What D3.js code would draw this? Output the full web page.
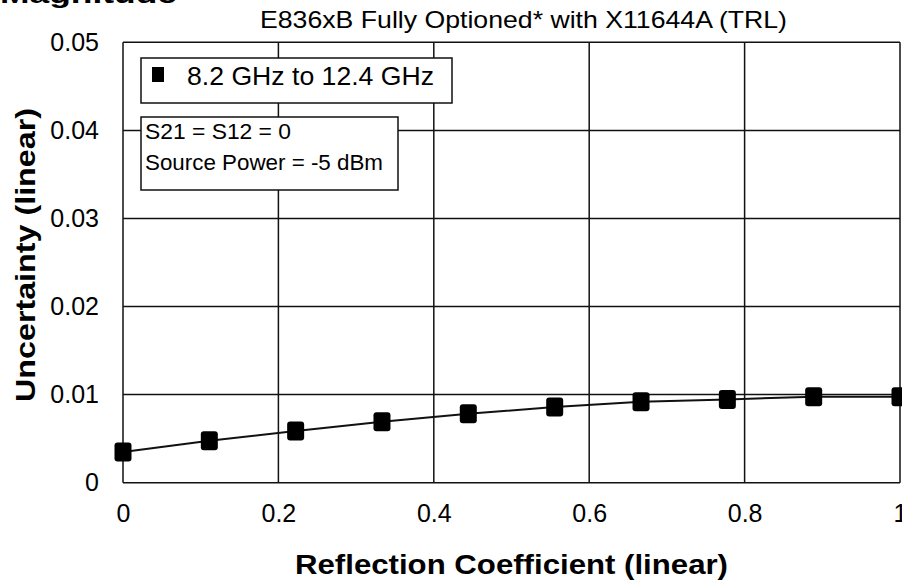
<!DOCTYPE html>
<html>
<head>
<meta charset="utf-8">
<script src="https://cdn.jsdelivr.net/npm/d3@7"></script>
<style>
  html, body { margin: 0; padding: 0; background: #fff; }
  svg { display: block; }
  text { font-family: "Liberation Sans", Arial, sans-serif; fill: #000; }
</style>
</head>
<body>
<script>
// ---- data ----
const xValues = [0, 0.1111, 0.2222, 0.3333, 0.4444, 0.5556, 0.6667, 0.7778, 0.8889, 1.0];
const yValues = [0.00348, 0.00476, 0.00587, 0.00692, 0.00783, 0.00859, 0.00919, 0.00946, 0.00976, 0.00976];
const xTicks = [0, 0.2, 0.4, 0.6, 0.8, 1];
const xTickLabels = ["0", "0.2", "0.4", "0.6", "0.8", "1"];
const yTicks = [0, 0.01, 0.02, 0.03, 0.04, 0.05];
const yTickLabels = ["0", "0.01", "0.02", "0.03", "0.04", "0.05"];
const seriesName = "8.2 GHz to 12.4 GHz";
const noteLines = ["S21 = S12 = 0", "Source Power = -5 dBm"];
const chartTitle = "E836xB Fully Optioned* with X11644A (TRL)";
const cornerLabel = "Magnitude";
const xTitle = "Reflection Coefficient (linear)";
const yTitle = "Uncertainty (linear)";

const W = 902, H = 585;
const svg = d3.select("body").append("svg").attr("width", W).attr("height", H);

const x = d3.scaleLinear().domain([0, 1]).range([123, 900]);
const y = d3.scaleLinear().domain([0, 0.05]).range([482.7, 42.3]);
const ink = "#111";

// corner label (cut at top)
svg.append("text").attr("x", 0).attr("y", 3)
  .attr("font-size", 26).attr("font-weight", "bold")
  .attr("textLength", 177).attr("lengthAdjust", "spacingAndGlyphs")
  .text(cornerLabel);

// title
svg.append("text").attr("x", 260).attr("y", 28)
  .attr("font-size", 24)
  .attr("textLength", 527).attr("lengthAdjust", "spacingAndGlyphs")
  .text(chartTitle);

// grid
const grid = svg.append("g");
grid.selectAll("line.v").data(xTicks).join("line")
  .attr("x1", d => x(d)).attr("x2", d => x(d))
  .attr("y1", y(0)).attr("y2", y(0.05))
  .attr("stroke", ink).attr("stroke-width", 1.5);
grid.selectAll("line.h").data(yTicks).join("line")
  .attr("x1", x(0)).attr("x2", x(1))
  .attr("y1", d => y(d)).attr("y2", d => y(d))
  .attr("stroke", ink).attr("stroke-width", 1.5);

// axes (labels only)
const yAxis = d3.axisLeft(y).tickValues(yTicks).tickSize(0).tickPadding(24)
  .tickFormat((d, i) => yTickLabels[i]);
const gy = svg.append("g").attr("transform", `translate(${x(0)},0)`).call(yAxis);
gy.select(".domain").remove();
gy.selectAll("text").attr("font-size", 25)
  .attr("font-family", "'Liberation Sans', Arial, sans-serif").attr("fill", "#000");

const xAxis = d3.axisBottom(x).tickValues(xTicks).tickSize(0).tickPadding(22)
  .tickFormat((d, i) => xTickLabels[i]);
const gx = svg.append("g").attr("transform", `translate(0,${y(0)})`).call(xAxis);
gx.select(".domain").remove();
gx.selectAll("text").attr("font-size", 25)
  .attr("font-family", "'Liberation Sans', Arial, sans-serif").attr("fill", "#000");

// axis titles
svg.append("text").attr("x", 295).attr("y", 574)
  .attr("font-size", 27).attr("font-weight", "bold")
  .attr("textLength", 433).attr("lengthAdjust", "spacingAndGlyphs")
  .text(xTitle);
svg.append("text")
  .attr("transform", "translate(35,402) rotate(-90)")
  .attr("font-size", 27).attr("font-weight", "bold")
  .attr("textLength", 294).attr("lengthAdjust", "spacingAndGlyphs")
  .text(yTitle);

// series
const pts = xValues.map((v, i) => [v, yValues[i]]);
svg.append("path").datum(pts)
  .attr("d", d3.line().x(d => x(d[0])).y(d => y(d[1])))
  .attr("fill", "none").attr("stroke", ink).attr("stroke-width", 2);
svg.selectAll("rect.mk").data(pts).join("rect")
  .attr("x", d => x(d[0]) - 8.5).attr("y", d => y(d[1]) - 9.5)
  .attr("width", 17).attr("height", 19).attr("rx", 3)
  .attr("fill", "#000");

// legend box
svg.append("rect").attr("x", 141).attr("y", 58).attr("width", 311).attr("height", 45)
  .attr("fill", "#fff").attr("stroke", ink).attr("stroke-width", 1.5);
svg.append("rect").attr("x", 152).attr("y", 67).attr("width", 12).attr("height", 15).attr("fill", "#000");
svg.append("text").attr("x", 187).attr("y", 85)
  .attr("font-size", 26)
  .attr("textLength", 247).attr("lengthAdjust", "spacingAndGlyphs")
  .text(seriesName);

// note box
svg.append("rect").attr("x", 141).attr("y", 117).attr("width", 257).attr("height", 73)
  .attr("fill", "#fff").attr("stroke", ink).attr("stroke-width", 1.5);
const noteLen = [146, 238];
const noteY = [139, 170];
noteLines.forEach((t, i) => {
  svg.append("text").attr("x", 145).attr("y", noteY[i])
    .attr("font-size", 22)
    .attr("textLength", noteLen[i]).attr("lengthAdjust", "spacingAndGlyphs")
    .text(t);
});
</script>
</body>
</html>
